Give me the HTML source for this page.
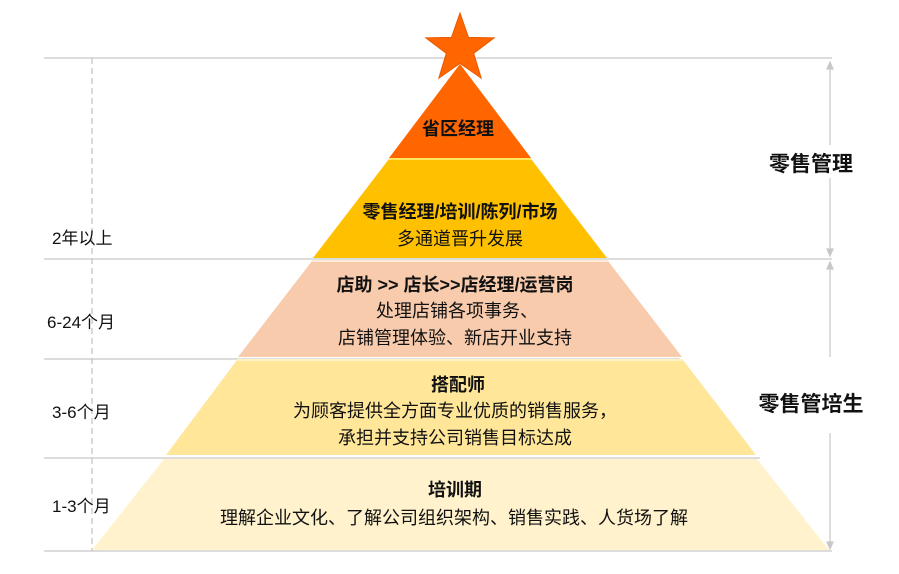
<!DOCTYPE html>
<html><head><meta charset="utf-8"><style>
html,body{margin:0;padding:0;background:#fff;}
svg{display:block;}
text{font-family:"Liberation Sans","Noto Sans CJK SC",sans-serif;fill:#111;}
.b{font-weight:bold;font-size:18px;}
.n{font-size:18px;}
.l{font-size:17px;}
.r{font-weight:bold;font-size:21px;}
</style></head><body>
<svg width="899" height="574" viewBox="0 0 899 574" xmlns="http://www.w3.org/2000/svg">
<g stroke="#c8c8c8" stroke-width="1.2">
<line x1="44" y1="58" x2="832" y2="58"/>
<line x1="44" y1="259" x2="832" y2="259"/>
<line x1="44" y1="359" x2="680" y2="359"/>
<line x1="44" y1="458" x2="760" y2="458"/>
<line x1="44" y1="551" x2="832" y2="551"/>
</g>
<line x1="92" y1="58" x2="92" y2="551" stroke="#c0c0c0" stroke-width="1.2" stroke-dasharray="6,4"/>
<g stroke="#c8c8c8" stroke-width="1.2" fill="#c8c8c8">
<line x1="830" y1="64" x2="830" y2="145"/>
<line x1="830" y1="178" x2="830" y2="252"/>
<polygon points="830,62 827,69 833,69"/>
<polygon points="830,256 827,249 833,249"/>
<line x1="830" y1="264" x2="830" y2="357"/>
<line x1="830" y1="433" x2="830" y2="545"/>
<polygon points="830,262 827,269 833,269"/>
<polygon points="830,549 827,542 833,542"/>
</g>
<polygon points="460,64 531,158 389,158" fill="#ff6600"/>
<polygon points="389,159 531,159 607,258 313,258" fill="#ffc000"/>
<line x1="389" y1="159" x2="531" y2="159" stroke="#ffe860" stroke-width="2"/>
<polygon points="312,261 608,261 682,357 238,357" fill="#f8cbad"/>
<line x1="312" y1="261" x2="608" y2="261" stroke="#fdebd8" stroke-width="2"/>
<polygon points="237,360 683,360 756,455 166,455" fill="#ffe699"/>
<line x1="237" y1="360" x2="683" y2="360" stroke="#fff4c4" stroke-width="2"/>
<polygon points="164,459 757,459 829,550 92,550" fill="#fff2cc"/>
<polygon points="460,13 468.5,37.4 494.2,37.9 473.7,53.4 481.2,78.1 460,63.3 438.8,78.1 446.3,53.4 425.8,37.9 451.5,37.4" fill="#ff6600" stroke="#e85a00" stroke-width="1"/>
<g text-anchor="middle">
<text class="b" x="458" y="135">省区经理</text>
<text class="b" x="460" y="218">零售经理/培训/陈列/市场</text>
<text class="n" x="460" y="245">多通道晋升发展</text>
<text class="b" x="455" y="291">店助 &gt;&gt; 店长&gt;&gt;店经理/运营岗</text>
<text class="n" x="457" y="317">处理店铺各项事务、</text>
<text class="n" x="455" y="344">店铺管理体验、新店开业支持</text>
<text class="b" x="458" y="391">搭配师</text>
<text class="n" x="455" y="417">为顾客提供全方面专业优质的销售服务，</text>
<text class="n" x="455" y="444">承担并支持公司销售目标达成</text>
<text class="b" x="455" y="496">培训期</text>
<text class="n" x="454" y="524">理解企业文化、了解公司组织架构、销售实践、人货场了解</text>
</g>
<text class="l" x="52" y="244">2年以上</text>
<text class="l" x="47" y="328">6-24个月</text>
<text class="l" x="52" y="418">3-6个月</text>
<text class="l" x="52" y="512">1-3个月</text>
<text class="r" x="811" y="171" text-anchor="middle">零售管理</text>
<text class="r" x="811" y="411" text-anchor="middle">零售管培生</text>
</svg>
</body></html>
